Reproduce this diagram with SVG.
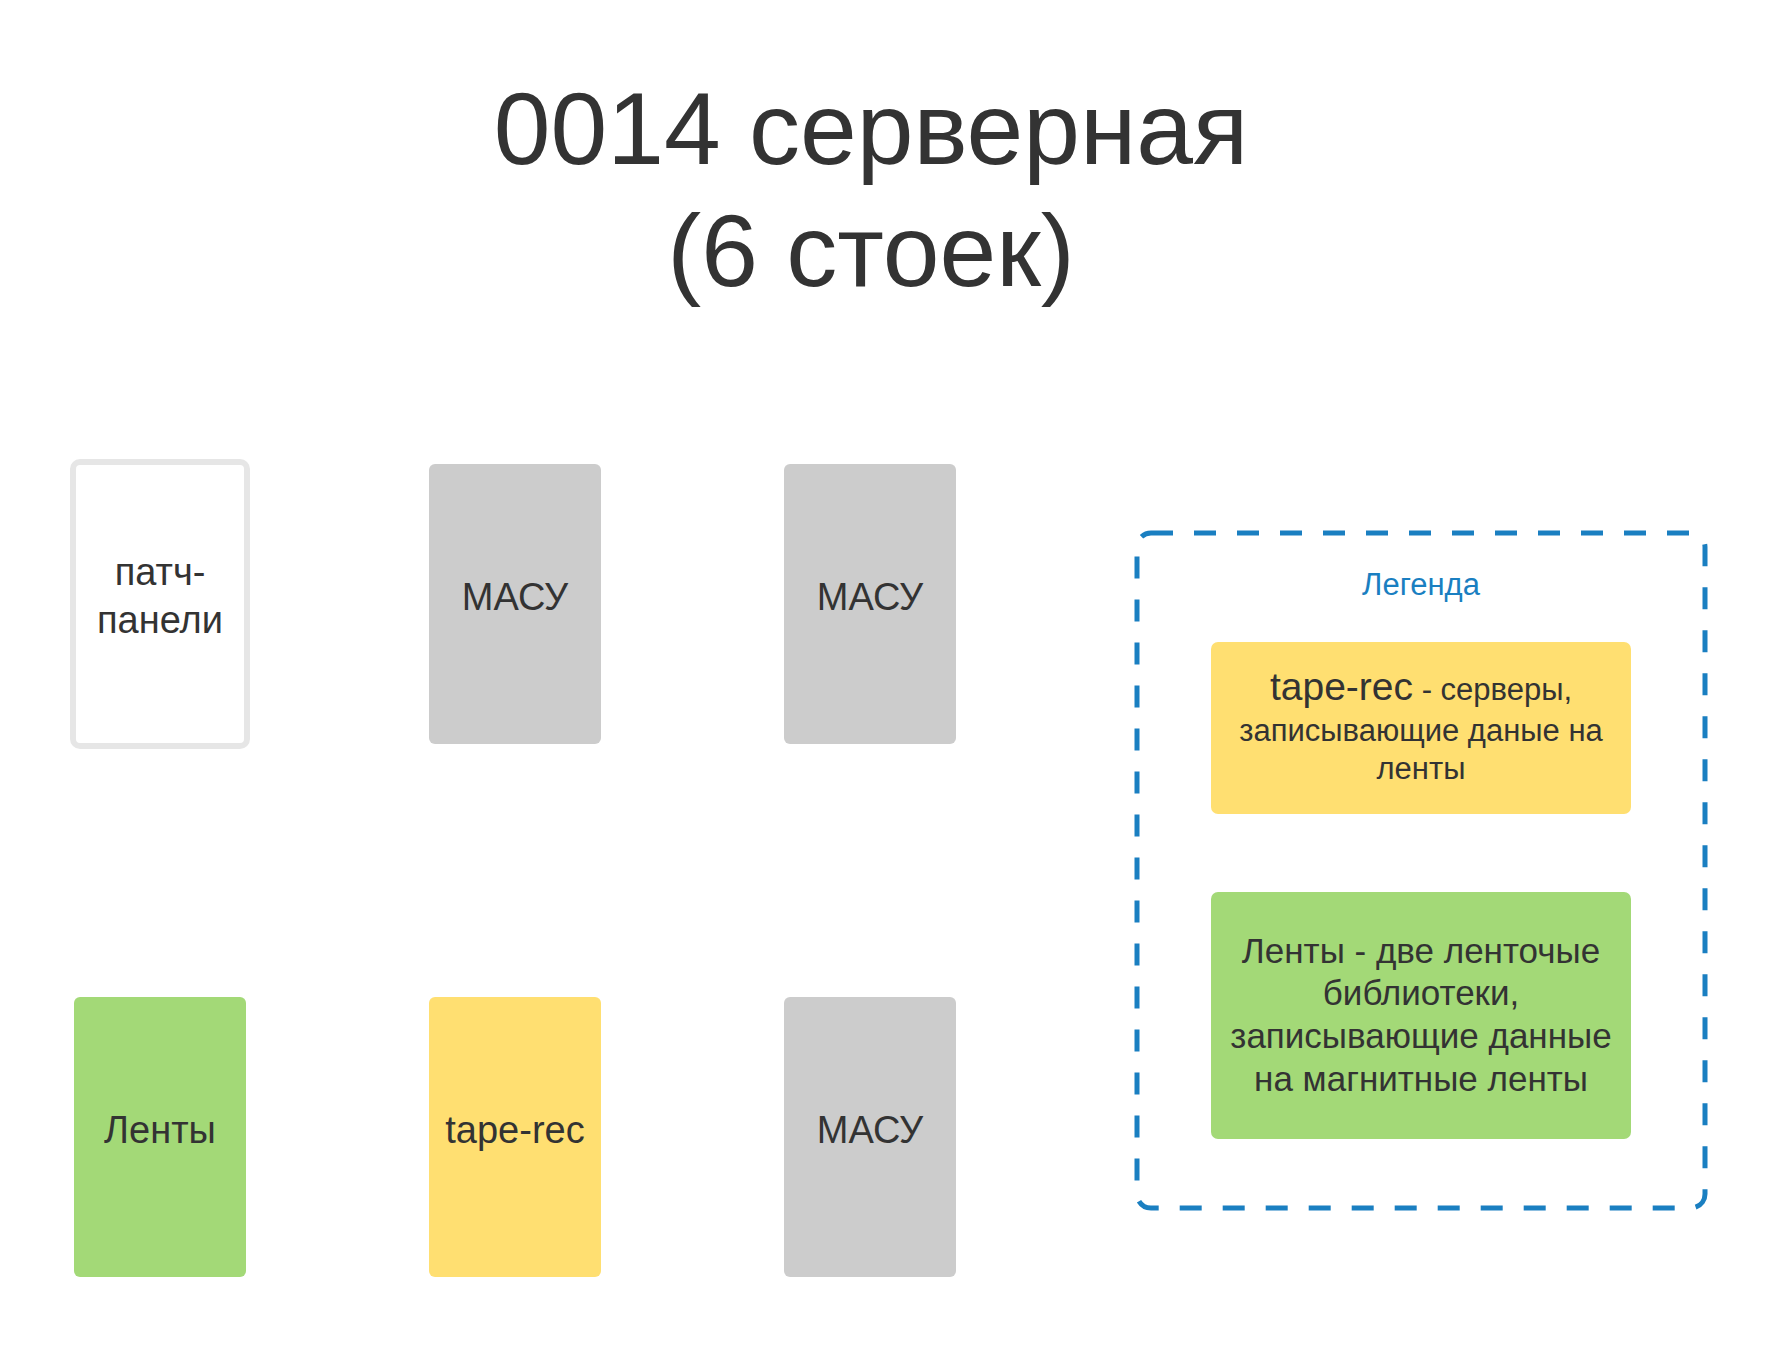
<svg xmlns="http://www.w3.org/2000/svg" width="1776" height="1350" viewBox="0 0 1776 1350">
<style>
text{font-family:"Liberation Sans",Arial,sans-serif;fill:#333333;text-anchor:middle}
.lbl{font-size:38px}
.gray{fill:#cccccc}
.yellow{fill:#ffdf71}
.green{fill:#a3d977}
.leg{font-size:31px}
.leg2{font-size:35px}
</style>
<rect x="0" y="0" width="1776" height="1350" fill="#ffffff"/>
<g id="title">
<text x="871" y="164" style="font-size:102px">0014 серверная</text>
<text x="871" y="286" style="font-size:102px">(6 стоек)</text>
</g>
<g id="patch-panel">
<rect x="73" y="462" width="174" height="284" rx="7" fill="#ffffff" stroke="#e6e6e6" stroke-width="6"/>
<text class="lbl" x="160" y="585">патч-</text>
<text class="lbl" x="160" y="633">панели</text>
</g>
<g id="masu-1">
<rect class="gray" x="429" y="464" width="172" height="280" rx="6"/>
<text class="lbl" x="515" y="610">МАСУ</text>
</g>
<g id="masu-2">
<rect class="gray" x="784" y="464" width="172" height="280" rx="6"/>
<text class="lbl" x="870" y="610">МАСУ</text>
</g>
<g id="lenty">
<rect class="green" x="74" y="997" width="172" height="280" rx="6"/>
<text class="lbl" x="160" y="1143">Ленты</text>
</g>
<g id="tape-rec">
<rect class="yellow" x="429" y="997" width="172" height="280" rx="6"/>
<text class="lbl" x="515" y="1143">tape-rec</text>
</g>
<g id="masu-3">
<rect class="gray" x="784" y="997" width="172" height="280" rx="6"/>
<text class="lbl" x="870" y="1143">МАСУ</text>
</g>
<g id="legend">
<rect x="1137" y="533" width="568" height="675" rx="14" fill="none" stroke="#1a7fc1" stroke-width="5" stroke-dasharray="22 21"/>
<text x="1421" y="595" style="font-size:31px;fill:#1a7fc1">Легенда</text>
</g>
<g id="legend-tape-rec">
<rect class="yellow" x="1211" y="642" width="420" height="172" rx="7"/>
<text class="leg" x="1421" y="700"><tspan style="font-size:39px">tape-rec</tspan> - серверы,</text>
<text class="leg" x="1421" y="741">записывающие даные на</text>
<text class="leg" x="1421" y="779">ленты</text>
</g>
<g id="legend-lenty">
<rect class="green" x="1211" y="892" width="420" height="247" rx="7"/>
<text class="leg2" x="1421" y="963">Ленты - две ленточые</text>
<text class="leg2" x="1421" y="1005">библиотеки,</text>
<text class="leg2" x="1421" y="1048">записывающие данные</text>
<text class="leg2" x="1421" y="1091">на магнитные ленты</text>
</g>
<g id="connectors"></g>
</svg>
